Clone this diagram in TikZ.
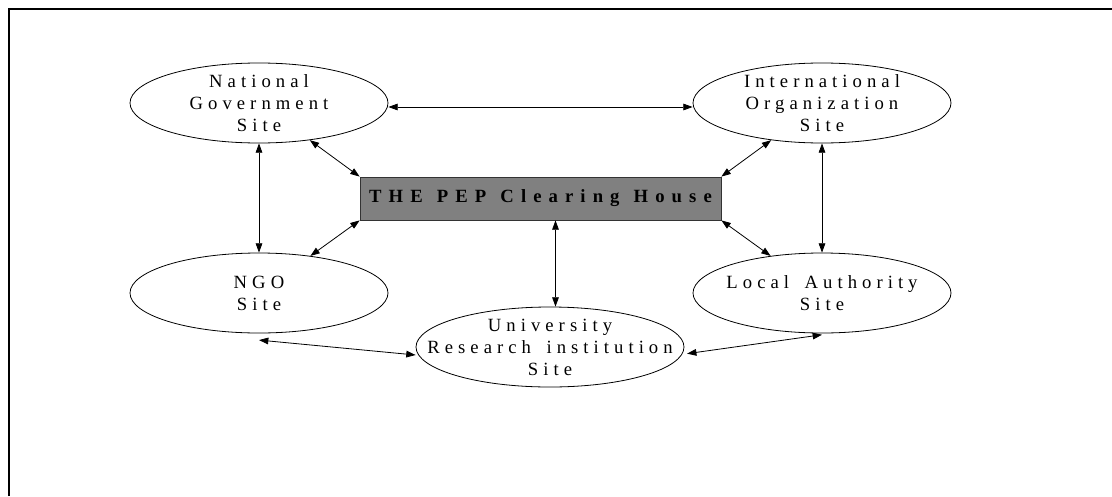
\documentclass[tikz,border=0pt]{standalone}
\usepackage{fontspec}
\setmainfont{Liberation Serif}
\newfontfamily\sitefont[LetterSpace=27, WordSpace=1.6]{Liberation Serif}
\newfontfamily\hubfont[LetterSpace=38, WordSpace=1.2]{Liberation Serif}
\usetikzlibrary{shapes.geometric, arrows.meta}
\begin{document}
\begin{tikzpicture}[x=0.75pt, y=-0.75pt,
    site/.style={draw, ellipse, line width=0.6pt, inner sep=-26pt,
        minimum width=193.5pt, minimum height=60pt, align=center,
        font=\sitefont\fontsize{14}{16.5}\selectfont},
    link/.style={line width=0.6pt,
        {Triangle[length=7pt,width=5pt]}-{Triangle[length=7pt,width=5pt]}}]
        \useasboundingbox (0,0) rectangle (1112,496);
        % cornice
        \draw[line width=1.5pt] (9,496) -- (9,9) -- (1112,9);

        % Siti disposti attorno al centro
        \node[site] (natgov_node) at (259,103) {National\\Government\\Site};
        \node[site] (intorg_node) at (822,103) {International\\Organization\\Site};

        \node[draw=black!80, fill=gray, line width=0.6pt, minimum width=270.75pt,
            minimum height=32.25pt, font=\hubfont\bfseries\fontsize{14}{16.5}\selectfont]
            (hub_node) at (540.5,198.5) {THE PEP Clearing House};

        \node[site] (ngo_node) at (259,293) {NGO\\Site};
        \node[site] (local_node) at (822,293) {Local Authority\\Site};

        \node[site, minimum width=201pt] (univ_node) at (550,347) {University\\Research institution\\Site};

        \draw[link] ([yshift=-3pt]natgov_node.east) -- ([yshift=-3pt]intorg_node.west);
        \draw[link] (natgov_node) -- (ngo_node);
        \draw[link] (intorg_node) -- (local_node);
        \draw[link] (natgov_node) -- (hub_node.north west);
        \draw[link] (ngo_node) -- (hub_node.south west);
        \draw[link] (intorg_node) -- (hub_node.north east);
        \draw[link] (local_node) -- (hub_node.south east);
        \draw[link] ([xshift=11.25pt]hub_node.south) -- ([xshift=11.25pt]hub_node.south |- univ_node.north);
        \draw[link] ([yshift=-5pt]ngo_node.south) -- ([yshift=-6pt]univ_node.west);
        \draw[link] ([xshift=2pt,yshift=-5pt]univ_node.east) -- ([yshift=-1pt]local_node.south);
    \end{tikzpicture}
\end{document}
